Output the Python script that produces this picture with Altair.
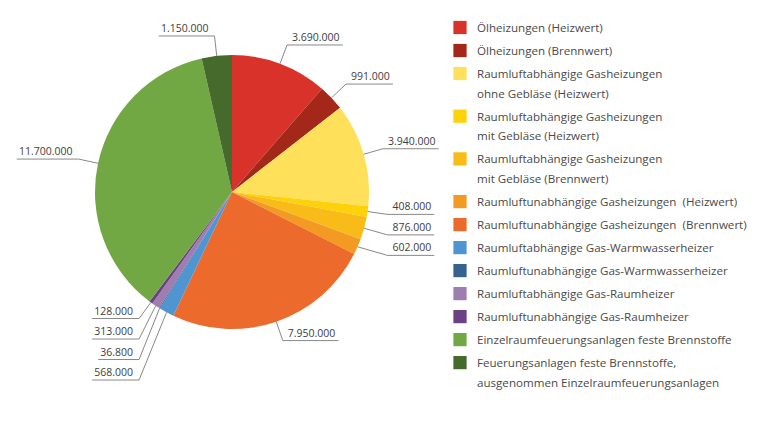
import math
import altair as alt
import pandas as pd

# ---------------- data ----------------
categories = [
    "Ölheizungen (Heizwert)",
    "Ölheizungen (Brennwert)",
    "Raumluftabhängige Gasheizungen\nohne Gebläse (Heizwert)",
    "Raumluftabhängige Gasheizungen\nmit Gebläse (Heizwert)",
    "Raumluftabhängige Gasheizungen\nmit Gebläse (Brennwert)",
    "Raumluftunabhängige Gasheizungen  (Heizwert)",
    "Raumluftunabhängige Gasheizungen  (Brennwert)",
    "Raumluftabhängige Gas-Warmwasserheizer",
    "Raumluftunabhängige Gas-Warmwasserheizer",
    "Raumluftabhängige Gas-Raumheizer",
    "Raumluftunabhängige Gas-Raumheizer",
    "Einzelraumfeuerungsanlagen feste Brennstoffe",
    "Feuerungsanlagen feste Brennstoffe,\nausgenommen Einzelraumfeuerungsanlagen",
]
values = [3690000, 991000, 3940000, 408000, 876000, 602000, 7950000,
          568000, 36800, 313000, 128000, 11700000, 1150000]
colors = ["#D8322A", "#A3281A", "#FFE05A", "#FDD20A", "#F8BB17", "#F29A22",
          "#EC6A2B", "#4F95D2", "#35628F", "#9E7DB1", "#6B4183", "#72A843",
          "#456A2C"]

# ---------------- layout constants (plot coordinates) ----------------
W, H = 751, 406
CX, CY, R = 224, 184, 137      # pie centre and radius
LEAD = 20                       # label anchor distance outside the pie
GAP = 20.5                      # min vertical spacing of labels
FONT = "Open Sans"
LFS = 10.5                      # value label font size
LEG_FS = 11.6                   # legend font size

def fmt(v):
    return f"{v:,}".replace(",", ".")

def text_w(s):
    return sum(0.572 * LFS if c.isdigit() else 0.27 * LFS for c in s)

total = sum(values)
rows = []
cum = 0
for i, (c, v) in enumerate(zip(categories, values)):
    mid = (cum + v / 2) / total * 2 * math.pi
    cum += v
    s, co = math.sin(mid), math.cos(mid)
    rows.append(dict(idx=i, cat=c, value=v, label=fmt(v),
                     ex=CX + R * s, ey=CY - R * co,
                     ax=CX + (R + LEAD) * s, ay=CY - (R + LEAD) * co,
                     side="right" if s >= 0 else "left"))

# simple collision avoidance per side
for side in ("left", "right"):
    grp = [r for r in rows if r["side"] == side]
    bottom = sorted([r for r in grp if r["ay"] > CY], key=lambda r: r["ay"])
    for a, b in zip(bottom, bottom[1:]):
        if b["ay"] < a["ay"] + GAP:
            b["ay"] = a["ay"] + GAP
            b["ax"] = min(b["ax"], a["ax"]) if side == "left" else max(b["ax"], a["ax"])
    top = sorted([r for r in grp if r["ay"] <= CY], key=lambda r: -r["ay"])
    for a, b in zip(top, top[1:]):
        if b["ay"] > a["ay"] - GAP:
            b["ay"] = a["ay"] - GAP

segs = []
for r in rows:
    tw = text_w(r["label"])
    if r["side"] == "right":
        ux = r["ax"] + 5 + tw + 3
        r["tx"] = r["ax"] + 5
    else:
        ux = r["ax"] - 6 - tw - 2
        r["tx"] = r["ax"] - 6
    r["ty"] = r["ay"] - 7
    segs.append(dict(x=r["ex"], y=r["ey"], x2=r["ax"], y2=r["ay"]))
    segs.append(dict(x=r["ax"], y=r["ay"], x2=ux, y2=r["ay"]))

pie_df = pd.DataFrame(rows)
seg_df = pd.DataFrame(segs)

# legend rows
LEG_X, LEG_Y0, ROW, LINE = 452, 21, 23, 19.7
leg_sq, leg_txt = [], []
y = LEG_Y0
for i, c in enumerate(categories):
    lines = c.replace("  ", "\u00a0 ").split("\n")
    leg_sq.append(dict(cat=c, x=LEG_X, y=y - 1.5))
    for k, ln in enumerate(lines):
        leg_txt.append(dict(t=ln, x=LEG_X + 17, y=y + k * LINE))
    y += ROW + (len(lines) - 1) * LINE
leg_sq_df = pd.DataFrame(leg_sq)
leg_txt_df = pd.DataFrame(leg_txt)

color_scale = alt.Scale(domain=categories, range=colors)

arcs = alt.Chart(pie_df).mark_arc(outerRadius=R, stroke=None).encode(
    theta=alt.Theta("value:Q", stack=True),
    order=alt.Order("idx:Q", sort="ascending"),
    color=alt.Color("cat:N", scale=color_scale, legend=None),
    x=alt.value(CX), y=alt.value(CY),
)

leaders = alt.Chart(seg_df).mark_rule(color="#7a7a7a", strokeWidth=0.9).encode(
    x=alt.X("x:Q", scale=None, axis=None), y=alt.Y("y:Q", scale=None, axis=None),
    x2="x2:Q", y2="y2:Q",
)

txt_r = alt.Chart(pie_df[pie_df.side == "right"]).mark_text(
    align="left", baseline="middle", font=FONT, fontSize=LFS, color="#404040"
).encode(x=alt.X("tx:Q", scale=None, axis=None), y=alt.Y("ty:Q", scale=None, axis=None), text="label:N")

txt_l = alt.Chart(pie_df[pie_df.side == "left"]).mark_text(
    align="right", baseline="middle", font=FONT, fontSize=LFS, color="#404040"
).encode(x=alt.X("tx:Q", scale=None, axis=None), y=alt.Y("ty:Q", scale=None, axis=None), text="label:N")

leg_squares = alt.Chart(leg_sq_df).mark_square(size=175, opacity=1, filled=True).encode(
    x=alt.X("x:Q", scale=None, axis=None), y=alt.Y("y:Q", scale=None, axis=None),
    color=alt.Color("cat:N", scale=color_scale, legend=None),
)

leg_text = alt.Chart(leg_txt_df).mark_text(
    align="left", baseline="middle", font=FONT, fontSize=LEG_FS, color="#4a4a4a"
).encode(x=alt.X("x:Q", scale=None, axis=None), y=alt.Y("y:Q", scale=None, axis=None), text="t:N")

chart = alt.layer(arcs, leaders, txt_r, txt_l, leg_squares, leg_text).properties(
    width=W, height=H, padding=0, autosize="none", background="white"
).configure_view(stroke=None)

chart.save("out.html", embed_options={"renderer": "svg", "actions": False})
